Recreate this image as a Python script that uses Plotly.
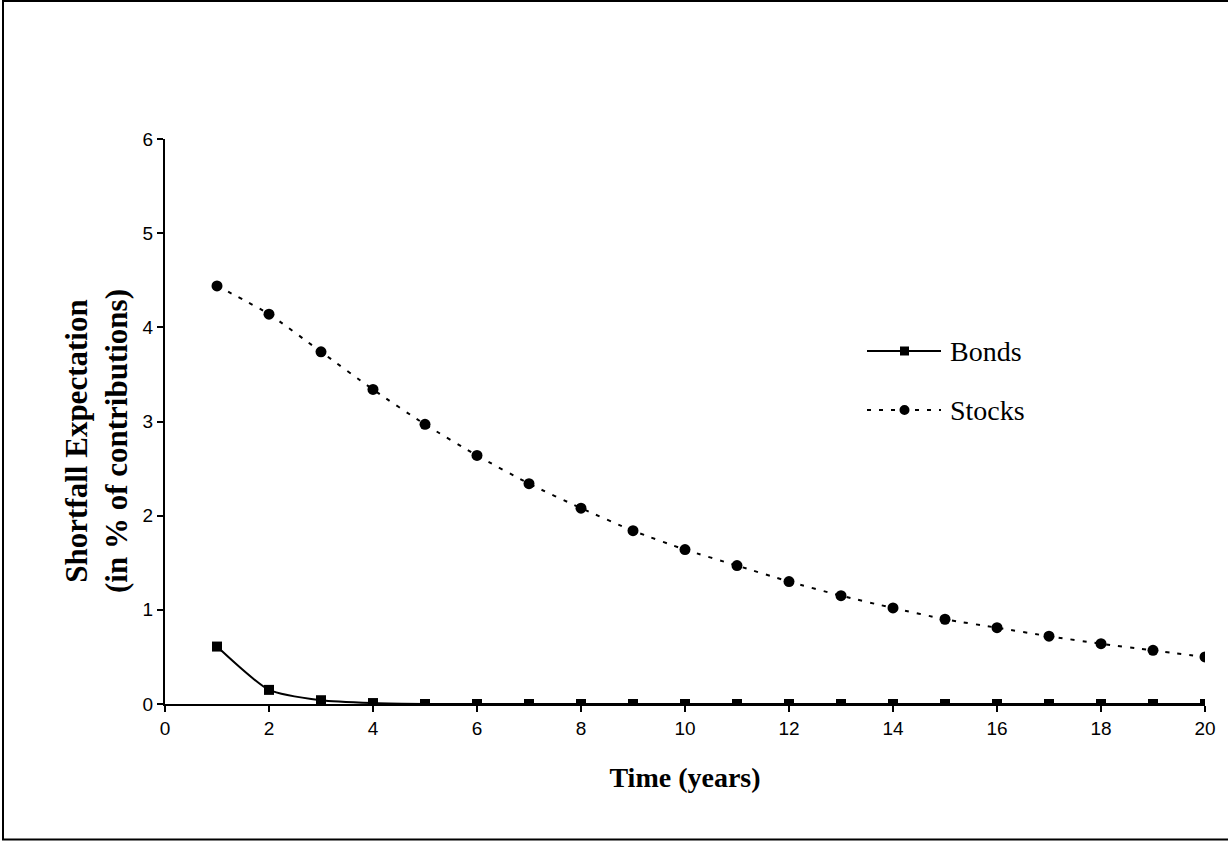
import plotly.graph_objects as go

years = list(range(1, 21))
bonds = [0.61, 0.15, 0.04, 0.01, 0.0, 0.0, 0.0, 0.0, 0.0, 0.0,
         0.0, 0.0, 0.0, 0.0, 0.0, 0.0, 0.0, 0.0, 0.0, 0.0]
stocks = [4.44, 4.14, 3.74, 3.34, 2.97, 2.64, 2.34, 2.08, 1.84, 1.64,
          1.47, 1.30, 1.15, 1.02, 0.90, 0.81, 0.72, 0.64, 0.57, 0.50]
x_ticks = [0, 2, 4, 6, 8, 10, 12, 14, 16, 18, 20]
y_ticks = [0, 1, 2, 3, 4, 5, 6]
series_names = ["Bonds", "Stocks"]

W, H = 1228, 841
L, R, T, B = 165, 23, 139, 137
pw, ph = W - L - R, H - T - B

def px(x):
    return (x - L) / pw

def py(y):
    return (H - B - y) / ph

DASH = "4px,8px"

fig = go.Figure()
fig.add_trace(go.Scatter(
    x=years, y=bonds, name=series_names[0], mode="lines+markers",
    line=dict(color="black", width=2, shape="spline", smoothing=0.6),
    marker=dict(symbol="square", size=10, color="black"),
))
fig.add_trace(go.Scatter(
    x=years, y=stocks, name=series_names[1], mode="lines+markers",
    line=dict(color="black", width=2, dash=DASH, shape="spline", smoothing=0.6),
    marker=dict(symbol="circle", size=11, color="black"),
))

# legend drawn as key shapes + text, to match the long key lines of the original
shapes = [dict(type="rect", xref="paper", yref="paper",
               x0=px(3), x1=px(1232), y0=py(839.5), y1=py(1),
               line=dict(color="black", width=2), layer="above")]
annotations = []
for i, (name, ly) in enumerate(zip(series_names, [351, 410])):
    shapes.append(dict(type="line", xref="paper", yref="paper",
                       x0=px(867), x1=px(941), y0=py(ly), y1=py(ly),
                       line=dict(color="black", width=2,
                                 dash="solid" if i == 0 else DASH)))
    if i == 0:
        shapes.append(dict(type="rect", xref="paper", yref="paper",
                           x0=px(900), x1=px(909), y0=py(ly + 4.5), y1=py(ly - 4.5),
                           fillcolor="black", line=dict(width=0)))
    else:
        shapes.append(dict(type="circle", xref="paper", yref="paper",
                           x0=px(899.5), x1=px(909.5), y0=py(ly + 5), y1=py(ly - 5),
                           fillcolor="black", line=dict(width=0)))
    annotations.append(dict(text=name, xref="paper", yref="paper",
                            x=px(948), y=py(ly), xanchor="left", yanchor="middle",
                            showarrow=False,
                            font=dict(family="Liberation Serif", size=28, color="black")))

annotations.append(dict(
    text="<b>Shortfall Expectation<br>(in % of contributions)</b>",
    xref="paper", yref="paper", x=px(96), y=py(441),
    xanchor="center", yanchor="middle", textangle=-90, showarrow=False,
    font=dict(family="Liberation Serif", size=31, color="black")))

fig.update_layout(
    width=W, height=H,
    margin=dict(l=L, r=R, t=T, b=B, autoexpand=False),
    paper_bgcolor="white", plot_bgcolor="white",
    showlegend=False,
    xaxis=dict(
        range=[0, 20], tickvals=x_ticks, ticktext=[str(v) for v in x_ticks],
        showgrid=False, zeroline=False, showline=True, linecolor="black", linewidth=2,
        ticks="outside", ticklen=6, tickwidth=2, tickcolor="black",
        tickfont=dict(family="Liberation Sans", size=19, color="black"),
        title=dict(text="<b>Time (years)</b>", standoff=30,
                   font=dict(family="Liberation Serif", size=28, color="black")),
    ),
    yaxis=dict(
        range=[0, 6], tickvals=y_ticks, ticktext=[str(v) for v in y_ticks],
        showgrid=False, zeroline=False, showline=True, linecolor="black", linewidth=2,
        ticks="outside", ticklen=6, tickwidth=2, tickcolor="black",
        tickfont=dict(family="Liberation Sans", size=19, color="black"),
    ),
    shapes=shapes,
    annotations=annotations,
)

fig.write_html("out.html", config={"displayModeBar": False},
               post_script="document.body.style.margin='0';document.body.style.overflow='hidden';")
